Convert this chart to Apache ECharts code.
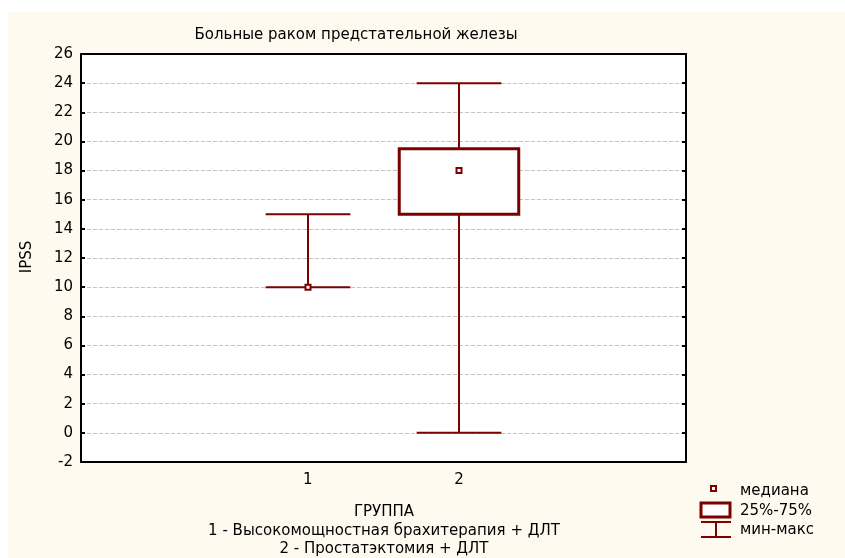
<!DOCTYPE html>
<html>
<head>
<meta charset="utf-8">
<script src="https://cdn.jsdelivr.net/npm/echarts@6/dist/echarts.min.js"></script>
<style>
html,body{margin:0;padding:0;background:#ffffff;}
#chart{width:845px;height:558px;}
</style>
</head>
<body>
<div id="chart"></div>
<script>
// ---- data ----
const categories = ['', '1', '2', ''];
const groupIndex = [1, 2];
const minVals = [10, 0];
const q1Vals = [null, 15];
const medianVals = [10, 18];
const q3Vals = [null, 19.5];
const maxVals = [15, 24];
const yTicks = { min: -2, max: 26, interval: 2 };

const titleText = 'Больные раком предстательной железы';
const xAxisTitle = 'ГРУППА\n1 - Высокомощностная брахитерапия + ДЛТ\n2 - Простатэктомия + ДЛТ';
const yAxisTitle = 'IPSS';
const legendLabels = ['медиана', '25%-75%', 'мин-макс'];

const RED = '#7d0000';
const FONT = '"DejaVu Sans", Verdana, sans-serif';

const seriesData = groupIndex.map((g, i) => [g, minVals[i], q1Vals[i], medianVals[i], q3Vals[i], maxVals[i]]);

function renderItem(params, api) {
  const x = api.value(0);
  const vMin = api.value(1), vMed = api.value(3), vMax = api.value(5);
  const band = api.size([1, 0])[0];
  const capHalf = band * 0.28;
  const boxHalf = band * 0.395;
  const pMin = api.coord([x, vMin]);
  const pMax = api.coord([x, vMax]);
  const pMed = api.coord([x, vMed]);
  const cx = Math.round(pMin[0]);
  const ls = { stroke: RED, lineWidth: 2, fill: null };
  const children = [
    { type: 'line', shape: { x1: cx, y1: pMax[1], x2: cx, y2: pMin[1] }, style: ls },
    { type: 'line', shape: { x1: cx - capHalf, y1: pMax[1], x2: cx + capHalf, y2: pMax[1] }, style: ls },
    { type: 'line', shape: { x1: cx - capHalf, y1: pMin[1], x2: cx + capHalf, y2: pMin[1] }, style: ls }
  ];
  const q1 = q1Vals[params.dataIndex], q3 = q3Vals[params.dataIndex];
  if (q1 != null && q3 != null) {
    const p1 = api.coord([x, q1]);
    const p3 = api.coord([x, q3]);
    children.push({ type: 'rect', shape: { x: cx - boxHalf, y: p3[1], width: boxHalf * 2, height: p1[1] - p3[1] },
      style: { stroke: RED, lineWidth: 3, fill: '#ffffff' } });
  }
  children.push({ type: 'rect', shape: { x: cx - 2.5, y: pMed[1] - 2.5, width: 5, height: 5 },
    style: { stroke: RED, lineWidth: 2, fill: '#ffffff' } });
  return { type: 'group', children };
}

const chart = echarts.init(document.getElementById('chart'), null, { renderer: 'canvas' });
const gridL = 81, gridT = 54, gridW = 605, gridH = 408;

chart.setOption({
  animation: false,
  backgroundColor: '#ffffff',
  textStyle: { fontFamily: FONT },
  grid: { left: gridL, top: gridT, width: gridW, height: gridH, containLabel: false,
          show: true, backgroundColor: '#ffffff', borderWidth: 0 },
  graphic: [
    { type: 'rect', z: -10, silent: true, shape: { x: 8, y: 12, width: 837, height: 546 }, style: { fill: '#fffaef' } },
    { type: 'text', x: 356, y: 35, style: { text: titleText, font: '15px ' + FONT, fill: '#000', align: 'center', verticalAlign: 'middle' } },
    { type: 'text', x: 384, y: 531, style: { text: xAxisTitle, font: '15px ' + FONT, fill: '#000', align: 'center', verticalAlign: 'middle', lineHeight: 18.5 } },
    { type: 'text', x: 27.5, y: 257, rotation: Math.PI / 2, style: { text: yAxisTitle, font: '15px ' + FONT, fill: '#000', align: 'center', verticalAlign: 'middle' } },
    // legend
    { type: 'rect', shape: { x: 711, y: 486, width: 5, height: 5 }, style: { stroke: RED, lineWidth: 2, fill: '#fff' } },
    { type: 'rect', shape: { x: 701, y: 503, width: 29, height: 14 }, style: { stroke: RED, lineWidth: 3, fill: '#fff' } },
    { type: 'line', shape: { x1: 701, y1: 522, x2: 731, y2: 522 }, style: { stroke: RED, lineWidth: 2 } },
    { type: 'line', shape: { x1: 701, y1: 537, x2: 731, y2: 537 }, style: { stroke: RED, lineWidth: 2 } },
    { type: 'line', shape: { x1: 716, y1: 522, x2: 716, y2: 537 }, style: { stroke: RED, lineWidth: 2 } },
    { type: 'text', x: 740, y: 491, style: { text: legendLabels[0], font: '15px ' + FONT, fill: '#000', verticalAlign: 'middle' } },
    { type: 'text', x: 740, y: 511, style: { text: legendLabels[1], font: '15px ' + FONT, fill: '#000', verticalAlign: 'middle' } },
    { type: 'text', x: 740, y: 530, style: { text: legendLabels[2], font: '15px ' + FONT, fill: '#000', verticalAlign: 'middle' } }
  ],
  xAxis: [
    { type: 'category', data: categories, position: 'bottom', boundaryGap: true,
      axisLine: { onZero: false, lineStyle: { color: '#000', width: 2 } },
      axisTick: { inside: true, alignWithLabel: true, length: 4, lineStyle: { color: '#000', width: 2 } },
      axisLabel: { color: '#000', fontSize: 15, margin: 11, fontFamily: FONT, interval: 0 },
      splitLine: { show: false } },
    { type: 'category', data: categories, position: 'top', boundaryGap: true,
      axisLine: { onZero: false, lineStyle: { color: '#000', width: 2 } },
      axisTick: { inside: true, alignWithLabel: true, length: 4, lineStyle: { color: '#000', width: 2 } },
      axisLabel: { show: false }, splitLine: { show: false } }
  ],
  yAxis: [
    { type: 'value', min: yTicks.min, max: yTicks.max, interval: yTicks.interval, position: 'left',
      axisLine: { show: true, onZero: false, lineStyle: { color: '#000', width: 2 } },
      axisTick: { show: true, inside: true, length: 4, lineStyle: { color: '#000', width: 2 } },
      axisLabel: { color: '#000', fontSize: 15, margin: 8, fontFamily: FONT },
      splitLine: { show: true, lineStyle: { color: '#c4c4c4', type: [4, 2], width: 1 } } },
    { type: 'value', min: yTicks.min, max: yTicks.max, interval: yTicks.interval, position: 'right',
      axisLine: { show: true, onZero: false, lineStyle: { color: '#000', width: 2 } },
      axisTick: { show: true, inside: true, length: 4, lineStyle: { color: '#000', width: 2 } },
      axisLabel: { show: false }, splitLine: { show: false } }
  ],
  series: [{
    type: 'custom', xAxisIndex: 0, yAxisIndex: 0,
    renderItem: renderItem,
    encode: { x: 0, y: [1, 3, 5] },
    data: seriesData, z: 5
  }]
});
</script>
</body>
</html>
